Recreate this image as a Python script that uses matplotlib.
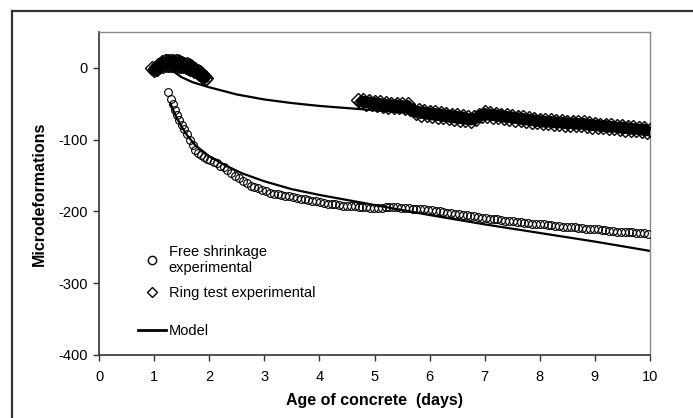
import matplotlib
matplotlib.use("Agg")
import matplotlib.pyplot as plt
from matplotlib.lines import Line2D

plt.rcParams['font.family'] = ['Liberation Sans', 'DejaVu Sans']
plt.rcParams['axes.unicode_minus'] = False

# free shrinkage, measured (days, microstrain)
free_days = [1.26, 1.30, 1.34, 1.38, 1.42, 1.46, 1.50, 1.55, 1.60, 1.65, 1.70, 1.75, 1.80, 1.85,
             1.90, 1.96, 2.02, 2.08, 2.14, 2.20, 2.26, 2.33, 2.40, 2.47, 2.54, 2.61, 2.68, 2.75,
             2.82, 2.89, 2.96, 3.03, 3.10, 3.17, 3.24, 3.31, 3.38, 3.45, 3.52, 3.59, 3.66, 3.73,
             3.80, 3.87, 3.94, 4.01, 4.08, 4.15, 4.22, 4.29, 4.36, 4.43, 4.50, 4.57, 4.64, 4.71,
             4.78, 4.85, 4.92, 4.99, 5.06, 5.13, 5.20, 5.27, 5.34, 5.41, 5.48, 5.55, 5.62, 5.69,
             5.76, 5.83, 5.90, 5.97, 6.04, 6.11, 6.18, 6.25, 6.32, 6.39, 6.46, 6.53, 6.60, 6.67,
             6.74, 6.81, 6.88, 6.95, 7.02, 7.09, 7.16, 7.23, 7.30, 7.37, 7.44, 7.51, 7.58, 7.65,
             7.72, 7.79, 7.86, 7.93, 8.00, 8.07, 8.14, 8.21, 8.28, 8.35, 8.42, 8.49, 8.56, 8.63,
             8.70, 8.77, 8.84, 8.91, 8.98, 9.05, 9.12, 9.19, 9.26, 9.33, 9.40, 9.47, 9.54, 9.61,
             9.68, 9.75, 9.82, 9.89, 9.96]
free_strain = [-34, -44, -51, -59, -66, -73, -79, -85, -92, -100, -107, -114, -118, -121,
               -124, -127, -129, -131, -133, -136, -138, -142, -146, -150, -154, -157, -161, -164,
               -166, -168, -170, -172, -174, -175, -176, -177, -178, -179, -180, -181, -182, -183,
               -184, -185, -186, -187, -188, -189, -190, -190, -191, -192, -192, -193, -193, -194,
               -194, -194, -195, -195, -195, -195, -194, -194, -194, -194, -195, -195, -195, -196,
               -196, -197, -197, -198, -198, -199, -200, -201, -202, -202, -203, -204, -205, -205,
               -206, -207, -208, -209, -209, -210, -211, -211, -212, -213, -213, -214, -215, -215,
               -216, -216, -217, -217, -218, -218, -219, -219, -220, -220, -221, -221, -222, -222,
               -223, -223, -224, -224, -225, -225, -226, -226, -227, -227, -228, -228, -229, -229,
               -229, -230, -230, -230, -231]

# ring test, measured: first days and after demoulding
ring_days_a = [0.97, 0.99, 1.01, 1.03, 1.05, 1.07, 1.09, 1.11, 1.13, 1.15, 1.17, 1.19, 1.21,
               1.23, 1.25, 1.27, 1.29, 1.31, 1.33, 1.35, 1.37, 1.39, 1.41, 1.43, 1.45, 1.47,
               1.49, 1.51, 1.53, 1.55, 1.57, 1.59, 1.61, 1.63, 1.65, 1.67, 1.69, 1.71, 1.73,
               1.75, 1.77, 1.79, 1.81, 1.83, 1.85, 1.87, 1.89, 1.91, 1.93, 1.95]
ring_strain_a = [0, -3, -2, 1, -1, 4, 1, 6, 2, 8, 3, 9, 4, 9, 4, 10, 4, 10, 4, 10, 4, 9, 4, 9,
                 3, 8, 3, 7, 2, 6, 1, 5, 0, 4, -1, 2, -2, 0, -4, -2, -6, -4, -8, -6, -10, -9,
                 -13, -11, -15, -14]
ring_days_b = [4.70, 4.75, 4.80, 4.85, 4.90, 4.95, 5.00, 5.05, 5.10, 5.15, 5.20, 5.25, 5.30,
               5.35, 5.40, 5.45, 5.50, 5.55, 5.60, 5.65, 5.70, 5.75, 5.80, 5.85, 5.90, 5.95,
               6.00, 6.05, 6.10, 6.15, 6.20, 6.25, 6.30, 6.35, 6.40, 6.45, 6.50, 6.55, 6.60,
               6.65, 6.70, 6.75, 6.80, 6.85, 6.90, 6.95, 7.00, 7.05, 7.10, 7.15, 7.20, 7.25,
               7.30, 7.35, 7.40, 7.45, 7.50, 7.55, 7.60, 7.65, 7.70, 7.75, 7.80, 7.85, 7.90,
               7.95, 8.00, 8.05, 8.10, 8.15, 8.20, 8.25, 8.30, 8.35, 8.40, 8.45, 8.50, 8.55,
               8.60, 8.65, 8.70, 8.75, 8.80, 8.85, 8.90, 8.95, 9.00, 9.05, 9.10, 9.15, 9.20,
               9.25, 9.30, 9.35, 9.40, 9.45, 9.50, 9.55, 9.60, 9.65, 9.70, 9.75, 9.80, 9.85,
               9.90, 9.95, 10.00]
ring_strain_b = [-45, -48, -45, -50, -46, -51, -47, -52, -48, -53, -49, -54, -50,
                 -55, -50, -55, -51, -56, -51, -57, -59, -63, -59, -65, -60, -66,
                 -61, -67, -62, -68, -63, -69, -64, -70, -65, -71, -66, -72, -67,
                 -73, -69, -74, -69, -71, -65, -67, -62, -67, -63, -68, -64, -69,
                 -65, -70, -66, -71, -67, -72, -68, -73, -69, -74, -70, -75, -71,
                 -76, -72, -77, -73, -77, -73, -78, -74, -78, -74, -79, -75, -79,
                 -75, -80, -76, -80, -76, -81, -77, -82, -78, -82, -79, -83, -79,
                 -84, -80, -84, -81, -85, -81, -86, -82, -87, -83, -87, -84, -88,
                 -84, -89, -86]

# model curves
model_ring_days = [1.35, 1.5, 1.7, 2.0, 2.5, 3.0, 3.5, 4.0, 4.5, 5.0, 6.0, 7.0, 8.0, 9.0, 10.0]
model_ring = [-5, -13, -20, -27, -37, -44, -49, -53, -56, -59, -65, -71, -77, -83, -88]
model_free_days = [1.30, 1.40, 1.50, 1.60, 1.75, 2.0, 2.3, 2.6, 3.0, 3.5, 4.0, 4.5, 5.0, 5.5,
                   6.0, 7.0, 8.0, 9.0, 10.0]
model_free = [-50, -68, -82, -94, -108, -123, -136, -147, -158, -169, -177, -184, -191, -198,
              -205, -218, -230, -242, -255]

fig = plt.figure(figsize=(6.93, 4.18), dpi=100)
ax = fig.add_axes([99/693, 1 - 355/418, 551/693, 323/418])

ax.plot(model_free_days, model_free, color='black', lw=1.6, zorder=2)
ax.plot(model_ring_days, model_ring, color='black', lw=1.6, zorder=2)
ax.plot(free_days, free_strain, ls='none', marker='o', ms=5.6, mfc='none', mec='black',
        mew=0.8, zorder=3)
# ring readings are so dense they merge into a dark band of diamonds
for days, strain in ((ring_days_a, ring_strain_a), (ring_days_b, ring_strain_b)):
    ax.plot(days[1:-1], strain[1:-1], color='black', lw=6.5, solid_capstyle='round',
            solid_joinstyle='round', zorder=3)
    ax.plot(days, strain, ls='none', marker='D', ms=7, mfc='none', mec='black',
            mew=1.0, zorder=3)

ax.set_xlim(0, 10)
ax.set_ylim(-400, 50)
ax.set_xticks(range(0, 11))
ax.set_yticks(range(-400, 1, 100))
ax.tick_params(direction='out', length=4, width=1, colors='#333333', labelsize=10.5,
               labelcolor='black')
ax.tick_params(axis='x', pad=7)
ax.tick_params(axis='y', pad=4)
for side in ('left', 'bottom'):
    ax.spines[side].set_color('#333333')
    ax.spines[side].set_linewidth(1.2)
for side in ('top', 'right'):
    ax.spines[side].set_color('#888888')
    ax.spines[side].set_linewidth(1.0)

ax.set_xlabel("Age of concrete  (days)", fontsize=11.5, fontweight='bold')
ax.set_ylabel("Microdeformations", fontsize=11.5, fontweight='bold')
ax.xaxis.set_label_coords(0.5, -0.118)
ax.yaxis.set_label_coords(-0.095, 0.5)

h_free = Line2D([], [], ls='none', marker='o', ms=6, mfc='white', mec='black', mew=1)
h_ring = Line2D([], [], ls='none', marker='D', ms=5.5, mfc='white', mec='black', mew=1)
h_model = Line2D([], [], color='black', lw=2)
leg1 = ax.legend([h_free, h_ring], ["Free shrinkage\nexperimental", "Ring test experimental"],
                 loc='upper left', bbox_to_anchor=((138 - 99) / 551, (355 - 245) / 323),
                 frameon=False, fontsize=10.5, handlelength=1.9, handletextpad=0.2,
                 borderpad=0, borderaxespad=0, labelspacing=0.75)
ax.add_artist(leg1)
ax.legend([h_model], ["Model"], loc='upper left',
          bbox_to_anchor=((138 - 99) / 551, (355 - 324) / 323),
          frameon=False, fontsize=10.5, handlelength=1.9, handletextpad=0.2,
          borderpad=0, borderaxespad=0)

# outer chart frame
fig.add_artist(Line2D([12/693, 1.0], [1 - 11/418, 1 - 11/418], color='#333333', lw=1.6))
fig.add_artist(Line2D([12/693, 12/693], [0.0, 1 - 11/418], color='#333333', lw=1.6))

fig.savefig("out.png", dpi=100)
